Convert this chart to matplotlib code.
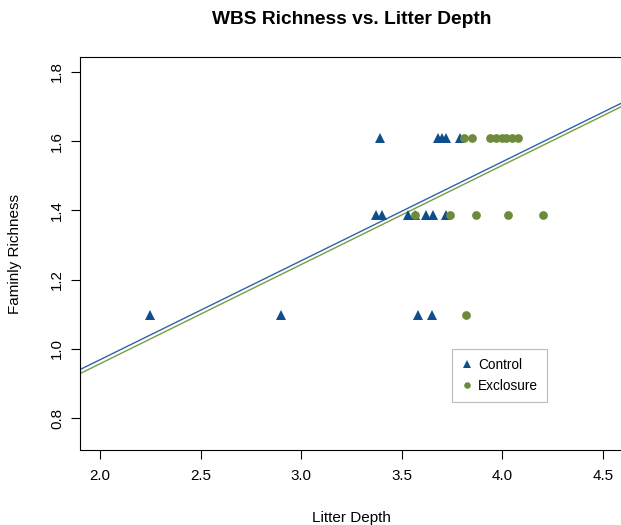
import matplotlib
matplotlib.use("Agg")
import matplotlib.pyplot as plt

plt.rcParams['font.family'] = ['Liberation Sans', 'DejaVu Sans']

# Control (triangles)
control_x = [2.25, 2.90, 3.58, 3.65,
             3.39, 3.68, 3.70, 3.72, 3.79,
             3.37, 3.40, 3.53, 3.565, 3.62, 3.655, 3.72]
control_y = [1.0986, 1.0986, 1.0986, 1.0986,
             1.6094, 1.6094, 1.6094, 1.6094, 1.6094,
             1.3863, 1.3863, 1.3863, 1.3863, 1.3863, 1.3863, 1.3863]

# Exclosure (circles)
excl_x = [3.82,
          3.81, 3.85, 3.94, 3.97, 4.00, 4.02, 4.05, 4.08,
          3.565, 3.74, 3.87, 4.03, 4.20]
excl_y = [1.0986,
          1.6094, 1.6094, 1.6094, 1.6094, 1.6094, 1.6094, 1.6094, 1.6094,
          1.3863, 1.3863, 1.3863, 1.3863, 1.3863]

# Fitted lines (intercept, slope)
control_fit = (0.3972, 0.2858)
excl_fit = (0.3844, 0.2864)

x_ticks = [2.0, 2.5, 3.0, 3.5, 4.0, 4.5]
y_ticks = [0.8, 1.0, 1.2, 1.4, 1.6, 1.8]

blue = "#104E8B"
green = "#6E8B3D"

W, H = 621, 525
fig = plt.figure(figsize=(W / 100, H / 100), dpi=100)
left, right, top, bottom = 80, 623, 57.3, 450
ax = fig.add_axes([left / W, (H - bottom) / H, (right - left) / W, (bottom - top) / H])

xlim = (2.0 - 0.1, 4.5 + 0.1)
ylim = (0.75 - 0.042, 1.8 + 0.042)

for (a, b), c in [(control_fit, "#2f64a8"), (excl_fit, "#7a9a45")]:
    ax.plot(list(xlim), [a + b * xlim[0], a + b * xlim[1]], color=c, lw=1.0, zorder=2)

ax.plot(control_x, control_y, linestyle='none', marker='^', ms=7.2, color=blue,
        label='Control', zorder=3, markeredgewidth=0)
ax.plot(excl_x, excl_y, linestyle='none', marker='o', ms=6.3, color=green,
        label='Exclosure', zorder=3, markeredgewidth=0)

ax.set_xlim(xlim)
ax.set_ylim(ylim)
ax.set_xticks(x_ticks)
ax.set_xticklabels([f"{v:.1f}" for v in x_ticks])
ax.set_yticks(y_ticks)
ax.set_yticklabels([f"{v:.1f}" for v in y_ticks], rotation=90, va='center')
ax.tick_params(axis='both', length=6.5, width=0.8, labelsize=10.9, color='black')
ax.tick_params(axis='x', pad=7)
ax.tick_params(axis='y', pad=5)
for s in ax.spines.values():
    s.set_linewidth(0.8)
    s.set_color('black')

ax.set_xlabel("Litter Depth", fontsize=11.0, labelpad=20)
ax.set_ylabel("Faminly Richness", fontsize=11.0, labelpad=20)
fig.text((left + right) / 2 / W, 1 - 19 / H, "WBS Richness vs. Litter Depth",
         ha='center', va='center', fontsize=13.8, fontweight='bold')

leg = ax.legend(loc='upper left', bbox_to_anchor=((452.3 - left) / (right - left), (bottom - 349.3) / (bottom - top)),
                borderaxespad=0, frameon=True, fancybox=False, edgecolor='#aaaaaa',
                fontsize=9.8, handlelength=0.8, handletextpad=0.45, borderpad=0.65,
                labelspacing=0.5, markerscale=0.75)
leg.get_frame().set_linewidth(0.8)

fig.savefig("out.png", dpi=100)
